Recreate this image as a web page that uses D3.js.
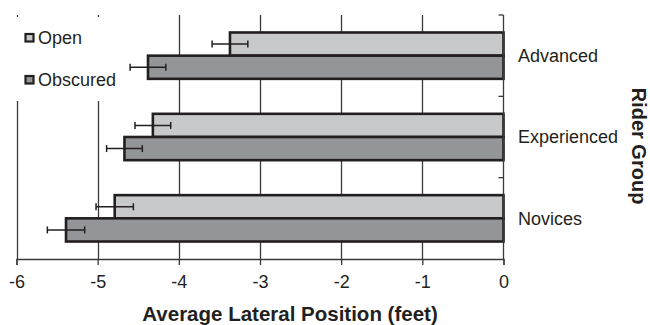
<!DOCTYPE html>
<html>
<head>
<meta charset="utf-8">
<script src="https://cdn.jsdelivr.net/npm/d3@7/dist/d3.min.js"></script>
<style>
  html, body { margin: 0; padding: 0; background: #fff; }
  svg { display: block; font-family: "Liberation Sans", Arial, sans-serif; }
</style>
</head>
<body>
<svg id="chart" width="650" height="325"></svg>
<script>
// Rider groups, top to bottom
const groups = ["Advanced", "Experienced", "Novices"];
// Visibility conditions (legend order)
const conditions = ["Open", "Obscured"];
// Mean lateral position (feet) per group, per condition
const openMeans = [-3.37, -4.32, -4.79];
const obscuredMeans = [-4.38, -4.67, -5.39];
// Error half-widths (feet)
const openErr = [0.22, 0.22, 0.23];
const obscuredErr = [0.22, 0.22, 0.23];
// X-axis tick values
const xTicks = [-6, -5, -4, -3, -2, -1, 0];

const colors = { Open: "#c8c9cb", Obscured: "#939598" };
const ink = "#231f20";
const textColor = "#231f20";

const svg = d3.select("#chart");
const plotLeft = 16.5, plotRight = 503.5, plotTop = 15, plotBottom = 259;

const x = d3.scaleLinear().domain([-6, 0]).range([plotLeft, plotRight]);
const y = d3.scaleBand().domain(groups).range([plotTop, plotBottom]).paddingInner(0.43).paddingOuter(0.215);
const ySub = d3.scaleBand().domain(conditions).range([0, y.bandwidth()]);

const rows = [];
groups.forEach((g, i) => {
  rows.push({ group: g, cond: "Open", v: openMeans[i], e: openErr[i] });
  rows.push({ group: g, cond: "Obscured", v: obscuredMeans[i], e: obscuredErr[i] });
});

// Vertical gridlines
svg.append("g").selectAll("line")
  .data(xTicks.filter(t => t !== 0))
  .join("line")
  .attr("x1", d => Math.round(x(d)) + 0.5).attr("x2", d => Math.round(x(d)) + 0.5)
  .attr("y1", plotTop).attr("y2", plotBottom)
  .attr("stroke", "#3a3a3a").attr("stroke-width", 1.3);

// Bars
svg.append("g").selectAll("rect")
  .data(rows)
  .join("rect")
  .attr("x", d => x(d.v))
  .attr("width", d => x(0) - x(d.v))
  .attr("y", d => y(d.group) + ySub(d.cond))
  .attr("height", ySub.bandwidth())
  .attr("fill", d => colors[d.cond])
  .attr("stroke", ink)
  .attr("stroke-width", 2.6);

// Error bars
const eb = svg.append("g").attr("stroke", ink).attr("stroke-width", 1.5);
rows.forEach(d => {
  const cy = y(d.group) + ySub(d.cond) + ySub.bandwidth() / 2;
  const x0 = x(d.v - d.e), x1 = x(d.v + d.e);
  eb.append("line").attr("x1", x0).attr("x2", x1).attr("y1", cy).attr("y2", cy);
  eb.append("line").attr("x1", x0).attr("x2", x0).attr("y1", cy - 3.5).attr("y2", cy + 3.5);
  eb.append("line").attr("x1", x1).attr("x2", x1).attr("y1", cy - 3.5).attr("y2", cy + 3.5);
});

// Bottom axis
const xAxis = svg.append("g")
  .attr("transform", `translate(0,${plotBottom})`)
  .call(d3.axisBottom(x).tickValues(xTicks).tickFormat(d => String(d)).tickSize(6).tickPadding(10));
xAxis.select(".domain").attr("stroke", "#3a3a3a").attr("stroke-width", 1.3);
xAxis.selectAll(".tick line").attr("stroke", "#3a3a3a").attr("stroke-width", 1.3);
xAxis.selectAll(".tick text").attr("fill", textColor).style("font-size", "18px")
  .style("font-family", "Liberation Sans, Arial, sans-serif");

// Right axis at zero, ticks on category boundaries
const boundaries = [plotTop, (y("Advanced") + y.bandwidth() + y("Experienced")) / 2,
                    (y("Experienced") + y.bandwidth() + y("Novices")) / 2];
const ra = svg.append("g").attr("stroke", "#3a3a3a").attr("stroke-width", 1.3);
ra.append("line").attr("x1", plotRight).attr("x2", plotRight).attr("y1", plotTop).attr("y2", plotBottom);
boundaries.forEach(b => {
  ra.append("line").attr("x1", plotRight - 5).attr("x2", plotRight).attr("y1", b).attr("y2", b);
});

// Category labels
svg.append("g").selectAll("text")
  .data(groups)
  .join("text")
  .attr("x", 518)
  .attr("y", d => y(d) + y.bandwidth() / 2)
  .attr("dy", "0.35em")
  .attr("fill", textColor)
  .style("font-size", "18px")
  .text(d => d);

// Axis titles
svg.append("text")
  .attr("x", 290).attr("y", 321)
  .attr("text-anchor", "middle")
  .attr("fill", textColor)
  .style("font-size", "20.5px").style("font-weight", "bold")
  .text("Average Lateral Position (feet)");

svg.append("text")
  .attr("transform", "translate(631.5,146) rotate(90)")
  .attr("text-anchor", "middle")
  .attr("fill", textColor)
  .style("font-size", "20px").style("font-weight", "bold")
  .text("Rider Group");

// Legend with white backing
const lg = svg.append("g");
lg.append("rect").attr("x", 8).attr("y", 17).attr("width", 118).attr("height", 84).attr("fill", "#fff");
const legendY = [37.5, 79.5];
conditions.forEach((c, i) => {
  lg.append("rect")
    .attr("x", 25.5).attr("y", legendY[i] - 3.5)
    .attr("width", 8).attr("height", 7.5)
    .attr("fill", colors[c]).attr("stroke", ink).attr("stroke-width", 2.2);
  lg.append("text")
    .attr("x", 38).attr("y", legendY[i])
    .attr("dy", "0.35em")
    .attr("fill", textColor)
    .style("font-size", "18px")
    .text(c);
});
</script>
</body>
</html>
